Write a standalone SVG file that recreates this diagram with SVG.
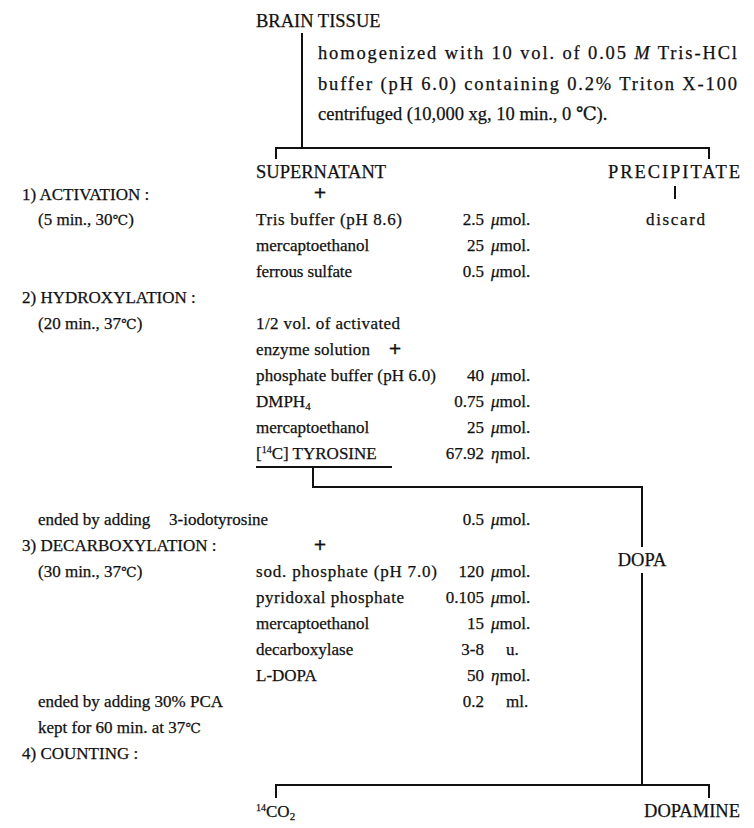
<svg xmlns="http://www.w3.org/2000/svg" width="754" height="828" viewBox="0 0 754 828">
<style>
text{font-family:"Liberation Serif","DejaVu Serif","Noto Sans CJK JP",serif;font-size:17px;fill:#111;stroke:#111;stroke-width:0.25}
.h{font-size:18.5px}
.b{font-size:18.5px}
.n{text-anchor:end}
.p{font-size:22px;font-weight:bold;text-anchor:middle}
.it{font-style:italic}
.c{font-size:14px}
.ln{stroke:#111;stroke-width:2;fill:none}
</style>
<rect width="754" height="828" fill="#fff"/>
<g id="connectors">
<path class="ln" d="M302 33V148M276 159V148H709V159"/>
<path class="ln" d="M675 186V199"/>
<path class="ln" d="M256 467H392"/>
<path class="ln" d="M313 467V487H642V547"/>
<path class="ln" d="M642 573V785M276 798V785H709V798"/>
</g>
<g id="brain"><text class="h" x="256" y="27">BRAIN TISSUE</text></g>
<g id="prep">
<text class="b" x="318" y="59" textLength="419">homogenized with 10 vol. of 0.05 <tspan class="it">M</tspan> Tris-HCl</text>
<text class="b" x="318" y="90" textLength="419">buffer (pH 6.0) containing 0.2% Triton X-100</text>
<text class="b" x="318" y="120">centrifuged (10,000 xg, 10 min., 0 ℃).</text>
</g>
<g id="supernatant"><text class="h" x="256" y="178">SUPERNATANT</text></g>
<g id="precipitate"><text class="h" x="608" y="178" textLength="132">PRECIPITATE</text></g>
<g id="discard"><text x="646" y="225" textLength="59">discard</text></g>
<g id="steps">
<text x="22" y="200">1) ACTIVATION :</text>
<text x="38" y="225">(5 min., 30<tspan class="c">℃</tspan>)</text>
<text x="22" y="303">2) HYDROXYLATION :</text>
<text x="38" y="329">(20 min., 37<tspan class="c">℃</tspan>)</text>
<text x="38" y="525">ended by adding</text>
<text x="169" y="525">3-iodotyrosine</text>
<text x="22" y="551">3) DECARBOXYLATION :</text>
<text x="38" y="577">(30 min., 37<tspan class="c">℃</tspan>)</text>
<text x="38" y="707">ended by adding 30% PCA</text>
<text x="38" y="733">kept for 60 min. at 37<tspan class="c">℃</tspan></text>
<text x="22" y="759">4) COUNTING :</text>
</g>
<g id="activation">
<text class="p" x="320" y="200">+</text>
<text x="256" y="225" textLength="146">Tris buffer (pH 8.6)</text>
<text class="n" x="484" y="225">2.5</text><text x="491" y="225"><tspan class="it">μ</tspan>mol.</text>
<text x="256" y="251">mercaptoethanol</text>
<text class="n" x="484" y="251">25</text><text x="491" y="251"><tspan class="it">μ</tspan>mol.</text>
<text x="256" y="277" textLength="96">ferrous sulfate</text>
<text class="n" x="484" y="277">0.5</text><text x="491" y="277"><tspan class="it">μ</tspan>mol.</text>
</g>
<g id="hydroxylation">
<text x="256" y="329" textLength="144">1/2 vol. of activated</text>
<text x="256" y="355" textLength="114">enzyme solution</text>
<text class="p" x="395" y="356">+</text>
<text x="256" y="381" textLength="180">phosphate buffer (pH 6.0)</text>
<text class="n" x="484" y="381">40</text><text x="491" y="381"><tspan class="it">μ</tspan>mol.</text>
<text x="256" y="407">DMPH<tspan font-size="11" dy="3">4</tspan></text>
<text class="n" x="484" y="407">0.75</text><text x="491" y="407"><tspan class="it">μ</tspan>mol.</text>
<text x="256" y="433">mercaptoethanol</text>
<text class="n" x="484" y="433">25</text><text x="491" y="433"><tspan class="it">μ</tspan>mol.</text>
<text x="256" y="459">[<tspan font-size="10" dy="-6">14</tspan><tspan dy="6">C] TYROSINE</tspan></text>
<text class="n" x="484" y="459">67.92</text><text x="491" y="459"><tspan class="it">η</tspan>mol.</text>
</g>
<g id="dopa"><text class="h" x="642" y="566" text-anchor="middle">DOPA</text></g>
<g id="decarboxylation">
<text class="n" x="484" y="525">0.5</text><text x="491" y="525"><tspan class="it">μ</tspan>mol.</text>
<text class="p" x="320" y="552">+</text>
<text x="256" y="577" textLength="181">sod. phosphate (pH 7.0)</text>
<text class="n" x="484" y="577">120</text><text x="491" y="577"><tspan class="it">μ</tspan>mol.</text>
<text x="256" y="603" textLength="148">pyridoxal phosphate</text>
<text class="n" x="484" y="603">0.105</text><text x="491" y="603"><tspan class="it">μ</tspan>mol.</text>
<text x="256" y="629">mercaptoethanol</text>
<text class="n" x="484" y="629">15</text><text x="491" y="629"><tspan class="it">μ</tspan>mol.</text>
<text x="256" y="655">decarboxylase</text>
<text class="n" x="484" y="655">3-8</text><text x="506" y="655">u.</text>
<text x="256" y="681">L-DOPA</text>
<text class="n" x="484" y="681">50</text><text x="491" y="681"><tspan class="it">η</tspan>mol.</text>
<text class="n" x="484" y="707">0.2</text><text x="506" y="707">ml.</text>
</g>
<g id="co2"><text x="256" y="817"><tspan font-size="10" dy="-6">14</tspan><tspan dy="6">CO</tspan><tspan font-size="11" dy="3">2</tspan></text></g>
<g id="dopamine"><text class="h" x="740" y="817" text-anchor="end">DOPAMINE</text></g>
</svg>
